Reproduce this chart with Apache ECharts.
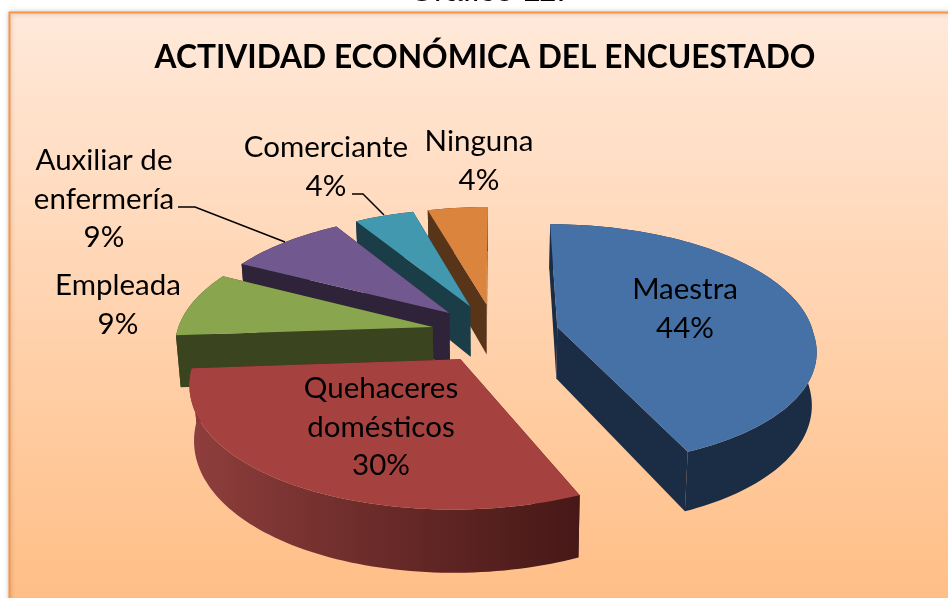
<!DOCTYPE html>
<html><head><meta charset="utf-8">
<style>html,body{margin:0;padding:0;background:#fff}#c{width:948px;height:598px}</style>
<script src="https://cdn.jsdelivr.net/npm/echarts@6/dist/echarts.min.js"></script>
</head><body><div id="c"></div>
<script>
const categories = ["Maestra","Quehaceres\ndomésticos","Empleada","Auxiliar de\nenfermería","Comerciante","Ninguna"];
const values = [43.5,30.4,8.7,8.7,4.35,4.35];
const topColors = ["#4571A7","#A54240","#89A54E","#71588F","#4198AF","#DB843D"];
const sideColors = ["#1B2D45","#4A1918","#3A441F","#2E2339","#1A3D47","#583519"];
const drawOrder = [5,4,3,2,0,1];
const labelCenters = [[685,309],[381,427],[118,305],[104,199],[326,167],[479,161]];

const total = values.reduce((a,b)=>a+b,0);
const starts = []; let acc = 0;
values.forEach(v=>{starts.push(acc/total*2*Math.PI); acc+=v;});

// Perspective model of the pie
const CX=495, CY=333, SX=256, SY=119.5, KXNEAR=.17, KXFAR=.13, KY=.147, EXPL=.25, DEPTH=52;
function proj(U,V){
  const wx=1-(V>0?KXNEAR:KXFAR)*V, wy=1-KY*V;
  return [CX+SX*U/wx, CY+SY*V/wy, wy];
}
function bottom(p){ return [CX+(p[0]-CX)*.985, p[1]+DEPTH/p[2]]; }

function wedge(i){
  const a0=starts[i], da=values[i]/total*2*Math.PI, mid=a0+da/2;
  const ox=EXPL*Math.sin(mid), oy=-EXPL*Math.cos(mid);
  const rim=[]; const n=Math.max(8,Math.ceil(da*40));
  for(let k=0;k<=n;k++){const a=a0+da*k/n; rim.push(proj(ox+Math.sin(a),oy-Math.cos(a)));}
  return {apex:proj(ox,oy),rim};
}
function renderItem(params,api){
  const i=api.value(0), w=wedge(i), rim=w.rim, ch=[];
  const side=sideColors[i], top=topColors[i];
  const poly=(pts,fill)=>ch.push({type:'polygon',shape:{points:pts},style:{fill:fill,stroke:null}});
  const first=rim[0], last=rim[rim.length-1];
  poly([w.apex,first,bottom(first),bottom(w.apex)],side);
  poly([w.apex,last,bottom(last),bottom(w.apex)],side);
  let rimFill=side;
  if(i===1){
    rimFill=new echarts.graphic.LinearGradient(0,0,1,0,[{offset:0,color:'#8F3F3D'},{offset:.35,color:'#74302E'},{offset:1,color:'#461817'}]);
  }
  poly(rim.concat(rim.slice().reverse().map(bottom)),rimFill);
  poly([w.apex].concat(rim),top);
  const lc=labelCenters[i];
  ch.push({type:'text',z2:50,style:{x:lc[0],y:lc[1],text:categories[i]+"\n"+Math.round(values[i])+"%",
    font:'29.5px Lato',lineHeight:38.5,fill:'#000',align:'center',verticalAlign:'middle'}});
  return {type:'group',children:ch};
}
const chart=echarts.init(document.getElementById('c'),null,{renderer:'canvas'});
chart.setOption({
  animation:false,
  graphic:[
    {type:'rect',z:-10,shape:{x:9.5,y:12.5,width:945,height:590},
     style:{fill:new echarts.graphic.LinearGradient(0,0,0,1,[{offset:0,color:'#FFE9DA'},{offset:1,color:'#FFBE86'}]),stroke:'#F79646',lineWidth:2,shadowBlur:5,shadowColor:'rgba(0,0,0,0.25)'}},
    {type:'text',z:-5,style:{x:487,y:-8,text:'Gráfico 11.',font:'32.6px "Liberation Sans"',fill:'#000',align:'center',verticalAlign:'middle'}},
    {type:'text',z:5,style:{x:485,y:58,text:'ACTIVIDAD ECONÓMICA DEL ENCUESTADO',font:'bold 31.7px Lato',fill:'#000',align:'center',verticalAlign:'middle'}},
    {type:'polyline',z:5,shape:{points:[[178,207],[195,207],[285,242]]},style:{stroke:'#000',lineWidth:1.5,fill:null}},
    {type:'polyline',z:5,shape:{points:[[352,194],[363,194],[384,215]]},style:{stroke:'#000',lineWidth:1.5,fill:null}}
  ],
  series:[{type:'custom',coordinateSystem:'none',renderItem:renderItem,silent:true,
    data:drawOrder.map(i=>[i,values[i]]),encode:{value:1}}]
});
</script></body></html>
